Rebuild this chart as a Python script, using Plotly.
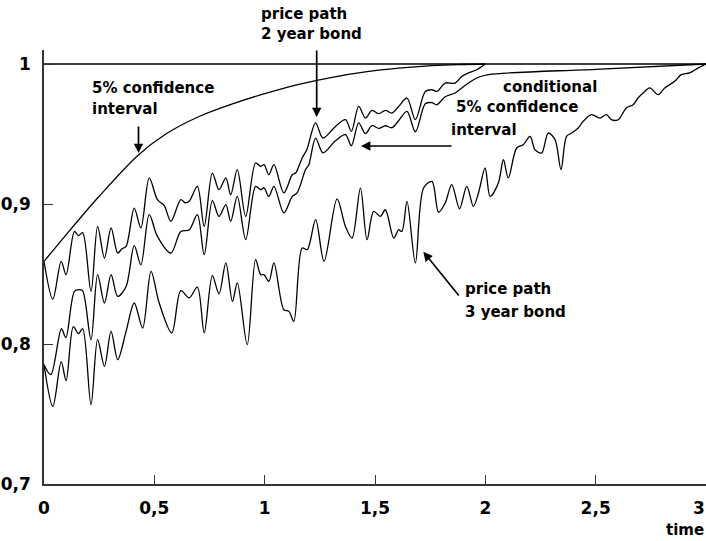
import plotly.graph_objects as go

# ---------------- data ----------------
# 5% confidence interval (smooth curve, 2-year bond)
ci_x = [0, 0.1, 0.25, 0.424, 0.552, 0.703, 0.854, 1.004, 1.155, 1.306, 1.456, 1.607,
        1.758, 1.878, 2.0]
ci_y = [0.859, 0.878, 0.9055, 0.9345, 0.950, 0.9625, 0.9715, 0.979, 0.9855, 0.9905,
        0.9943, 0.997, 0.9988, 0.9996, 1.0]

# price path, 2 year bond
p2_x = [0, 0.040, 0.078, 0.100, 0.138, 0.156, 0.175, 0.213, 0.243, 0.274, 0.304, 0.334,
        0.353, 0.372, 0.409, 0.439, 0.477, 0.514, 0.545, 0.575, 0.620, 0.640, 0.658,
        0.695, 0.726, 0.763, 0.793, 0.824, 0.846, 0.876, 0.914, 0.959, 0.982, 0.997,
        1.019, 1.042, 1.087, 1.125, 1.140, 1.170, 1.191, 1.231, 1.264, 1.321, 1.366,
        1.393, 1.426, 1.457, 1.486, 1.517, 1.547, 1.577, 1.607, 1.645, 1.683, 1.728,
        1.758, 1.780, 1.818, 1.863, 1.893, 1.924, 1.961, 2.0]
p2_y = [0.859, 0.832, 0.859, 0.8495, 0.8804, 0.8774, 0.8795, 0.8376, 0.884, 0.8614,
        0.8829, 0.865, 0.868, 0.8697, 0.8971, 0.8829, 0.9186, 0.9031, 0.8988, 0.8876,
        0.9031, 0.9009, 0.9019, 0.9126, 0.884, 0.9221, 0.9102, 0.9186, 0.9066, 0.9245,
        0.8911, 0.9293, 0.9269, 0.9281, 0.9209, 0.9281, 0.9079, 0.9209, 0.9221, 0.9329,
        0.9388, 0.9579, 0.9471, 0.9554, 0.9602, 0.9519, 0.9697, 0.9614, 0.9669, 0.9645,
        0.9669, 0.9650, 0.9697, 0.9757, 0.9602, 0.9804, 0.9816, 0.9804, 0.9864, 0.9864,
        0.9911, 0.9936, 0.9959, 1.0]

# conditional 5% confidence interval
cc_x = [0, 0.031, 0.079, 0.099, 0.138, 0.160, 0.175, 0.213, 0.243, 0.274, 0.304, 0.334,
        0.372, 0.409, 0.439, 0.477, 0.514, 0.575, 0.620, 0.658, 0.695, 0.726, 0.763,
        0.793, 0.824, 0.846, 0.876, 0.914, 0.959, 0.982, 0.997, 1.019, 1.042, 1.087,
        1.125, 1.147, 1.185, 1.200, 1.231, 1.264, 1.321, 1.366, 1.393, 1.426, 1.457,
        1.486, 1.517, 1.547, 1.577, 1.607, 1.645, 1.683, 1.728, 1.758, 1.780, 1.818,
        1.863, 1.893, 1.924, 1.961, 2.014, 2.5, 3.0]
cc_y = [0.7852, 0.7781, 0.8109, 0.8045, 0.8376, 0.8388, 0.8381, 0.8031, 0.8495, 0.8293,
        0.8495, 0.834, 0.8411, 0.8702, 0.8566, 0.8924, 0.8769, 0.865, 0.8804, 0.8816,
        0.8924, 0.8638, 0.9024, 0.8911, 0.8995, 0.8876, 0.9054, 0.8745, 0.9126, 0.9102,
        0.9116, 0.9054, 0.9126, 0.8936, 0.9054, 0.9079, 0.9245, 0.9281, 0.9471, 0.9366,
        0.9452, 0.9495, 0.9416, 0.9579, 0.9502, 0.9559, 0.9540, 0.9559, 0.9545, 0.9595,
        0.9661, 0.9516, 0.9716, 0.9724, 0.9709, 0.9766, 0.9793, 0.9829, 0.9864, 0.990,
        0.9924, 0.9962, 1.0]

# price path, 3 year bond
p3_x = [0, 0.040, 0.078, 0.100, 0.133, 0.156, 0.175, 0.213, 0.243, 0.274, 0.304, 0.334,
        0.372, 0.409, 0.447, 0.485, 0.522, 0.579, 0.620, 0.658, 0.695, 0.726, 0.763,
        0.793, 0.824, 0.854, 0.876, 0.921, 0.959, 0.982, 0.997, 1.019, 1.042, 1.087,
        1.110, 1.132, 1.170, 1.193, 1.231, 1.269, 1.328, 1.366, 1.396, 1.434, 1.464,
        1.494, 1.524, 1.547, 1.585, 1.607, 1.622, 1.645, 1.683, 1.720, 1.758, 1.788,
        1.818, 1.848, 1.883, 1.916, 1.946, 1.969, 1.999, 2.022, 2.059, 2.082, 2.104,
        2.142, 2.172, 2.203, 2.225, 2.255, 2.285, 2.316, 2.343, 2.368, 2.391, 2.421,
        2.443, 2.481, 2.519, 2.549, 2.571, 2.602, 2.639, 2.670, 2.692, 2.715, 2.745,
        2.783, 2.813, 2.858, 2.888, 2.926, 2.963, 3.0]
p3_y = [0.7852, 0.7554, 0.7874, 0.7738, 0.8124, 0.8074, 0.8109, 0.7566, 0.8031, 0.784,
        0.809, 0.7888, 0.809, 0.8293, 0.8114, 0.8519, 0.8293, 0.8079, 0.8381, 0.8329,
        0.8406, 0.8079, 0.8488, 0.8359, 0.8579, 0.8304, 0.8436, 0.7995, 0.8602, 0.8495,
        0.8495, 0.8447, 0.8579, 0.8245, 0.8233, 0.8161, 0.8686, 0.8674, 0.8888, 0.859,
        0.9036, 0.884, 0.8757, 0.9114, 0.8745, 0.8947, 0.8911, 0.8959, 0.8757, 0.8816,
        0.8804, 0.9019, 0.8579, 0.9114, 0.9161, 0.8941, 0.9007, 0.9138, 0.8966, 0.9126,
        0.8983, 0.9079, 0.9257, 0.9054, 0.915, 0.9316, 0.9186, 0.94, 0.9424, 0.9483,
        0.9388, 0.9364, 0.9507, 0.9459, 0.9245, 0.9483, 0.9507, 0.9543, 0.959, 0.9638,
        0.9614, 0.9638, 0.9602, 0.9602, 0.9686, 0.9709, 0.9757, 0.9793, 0.9829, 0.9781,
        0.9829, 0.9876, 0.9924, 0.9936, 0.9971, 1.0]

par_x = [0, 3]
par_y = [1, 1]

x_ticks = [0, 0.5, 1, 1.5, 2, 2.5, 3]
x_labels = ["0", "0,5", "1", "1,5", "2", "2,5", "3"]
y_ticks = [0.7, 0.8, 0.9, 1.0]
y_labels = ["0,7", "0,8", "0,9", "1"]

# ---------------- figure ----------------
W, H = 706, 541
ML, MR, MT, MB = 44, 0, 50, 57
PW, PH = W - ML - MR, H - MT - MB

FONT = "DejaVu Sans"
LINE = dict(color="black", width=1.3, shape="spline", smoothing=0.9)

fig = go.Figure()
fig.add_trace(go.Scatter(x=par_x, y=par_y, mode="lines",
                         line=dict(color="black", width=1.3)))
fig.add_trace(go.Scatter(x=ci_x, y=ci_y, mode="lines", line=LINE))
fig.add_trace(go.Scatter(x=p2_x, y=p2_y, mode="lines", line=LINE))
fig.add_trace(go.Scatter(x=cc_x, y=cc_y, mode="lines", line=LINE))
fig.add_trace(go.Scatter(x=p3_x, y=p3_y, mode="lines", line=LINE))


def px2paper(px, py):
    return (px - ML) / PW, (H - MB - py) / PH


annotations = []


def label(text, left_px, mid_py, size=15, anchor="left"):
    xp, yp = px2paper(left_px, mid_py)
    annotations.append(dict(text=text, x=xp, y=yp, xref="paper", yref="paper",
                            xanchor=anchor, yanchor="middle", showarrow=False,
                            font=dict(family=FONT, size=size, color="black",
                                      weight="bold")))


def arrow(head_px, head_py, tail_px, tail_py):
    xp, yp = px2paper(head_px, head_py)
    annotations.append(dict(text="", x=xp, y=yp, xref="paper", yref="paper",
                            ax=tail_px - head_px, ay=tail_py - head_py,
                            showarrow=True, arrowhead=2, arrowsize=1.1,
                            arrowwidth=1.7, arrowcolor="black", standoff=0))


label("price path", 259, 14)
label("2 year bond", 259, 34.3)
label("5% confidence", 90, 87.7)
label("interval", 90, 109)
label("conditional", 501, 86.7)
label("5% confidence", 454, 107.3)
label("interval", 449, 130)
label("price path", 463, 289.3)
label("3 year bond", 463, 311.7)
label("time", 664, 530)
# last x tick label sits on the right edge of the canvas
label(x_labels[-1], 707, 507.5, size=17, anchor="right")

arrow(138.5, 153, 138.5, 125)
arrow(316.7, 117, 316.7, 49)
arrow(361, 146, 453, 146)
arrow(423.3, 251.7, 460, 297)

axis_common = dict(showgrid=False, zeroline=False, showline=True,
                   linecolor="#333", linewidth=1.5, ticks="inside",
                   ticklen=9, tickwidth=1.3, tickcolor="#333",
                   tickfont=dict(family=FONT, size=17, color="black",
                                 weight="bold"),
                   automargin=False, fixedrange=True)

fig.update_layout(
    width=W, height=H,
    margin=dict(l=ML, r=MR, t=MT, b=MB, pad=0),
    paper_bgcolor="white", plot_bgcolor="white",
    showlegend=False,
    xaxis=dict(range=[0, 3], tickvals=x_ticks[:-1], ticktext=x_labels[:-1],
               ticklabelstandoff=8, **axis_common),
    yaxis=dict(range=[0.7, 0.7 + PH / 1400], tickvals=y_ticks,
               ticktext=y_labels, ticklabelstandoff=8, **axis_common),
    annotations=annotations,
)

fig.write_html(
    "out.html",
    config={"displayModeBar": False},
    post_script="document.body.style.margin='0px';"
                "document.body.style.overflow='hidden';",
)
